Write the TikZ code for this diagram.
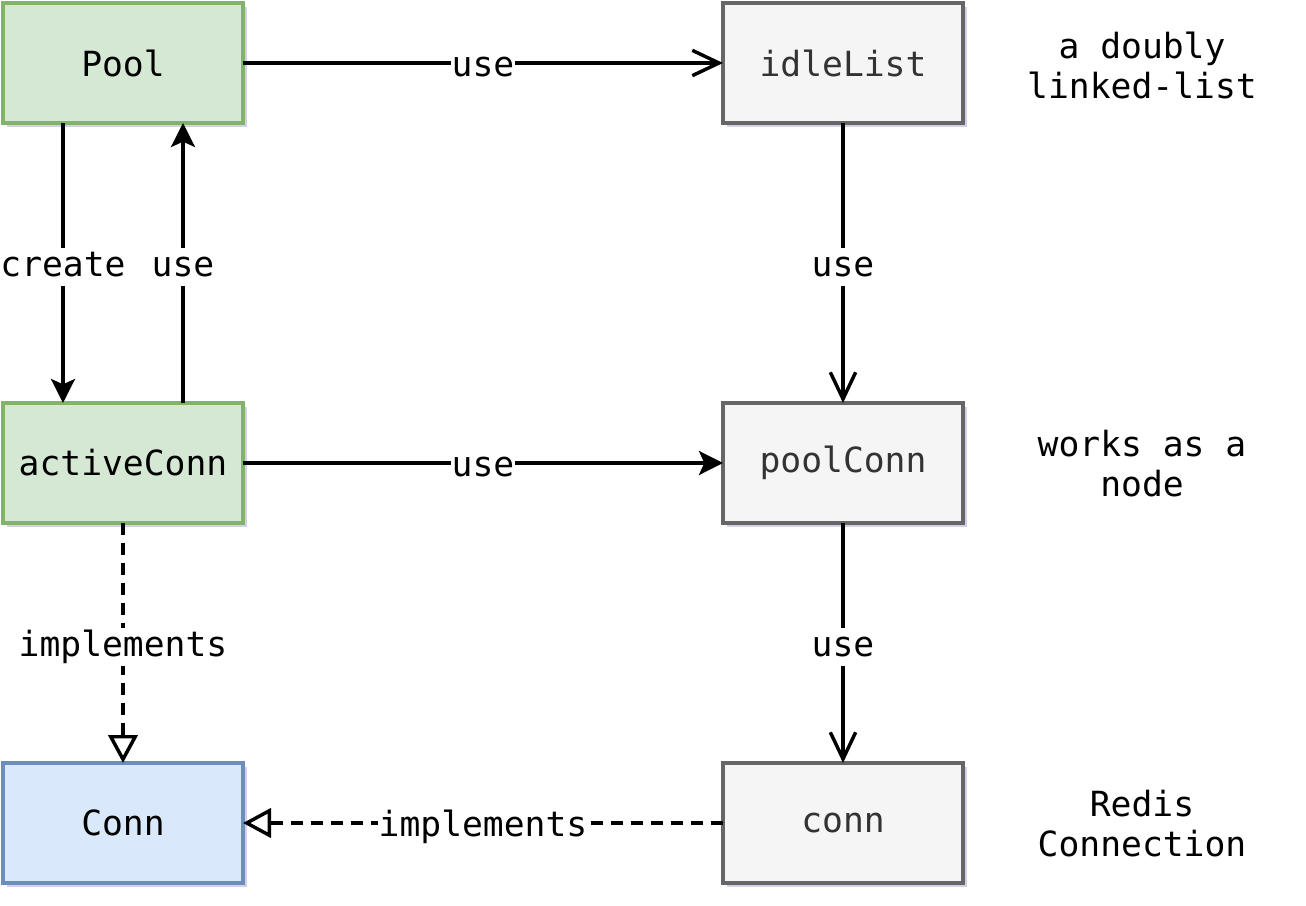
\documentclass[tikz,border=0pt]{standalone}
\usepackage{fontspec}
\setmonofont{DejaVu Sans Mono}
\usetikzlibrary{arrows.meta,shadows}
\definecolor{gfill}{HTML}{D5E8D4}\definecolor{gline}{HTML}{82B366}
\definecolor{sfill}{HTML}{F5F5F5}\definecolor{sline}{HTML}{666666}\definecolor{stext}{HTML}{333333}
\definecolor{bfill}{HTML}{DAE8FC}\definecolor{bline}{HTML}{6C8EBF}
\definecolor{shad}{HTML}{B4B4D2}
\tikzset{
  base/.style={rectangle, minimum width=180pt, minimum height=90pt, line width=2.6pt, outer sep=0pt,
     font=\ttfamily\fontsize{26}{30}\selectfont,
     drop shadow={shadow xshift=3pt, shadow yshift=-3pt, fill=shad, opacity=0.6}},
  greenbox/.style={base, fill=gfill, draw=gline},
  greybox/.style={base, fill=sfill, draw=sline, text=stext},
  bluebox/.style={base, fill=bfill, draw=bline},
  note/.style={font=\ttfamily\fontsize{26}{30}\selectfont, align=center},
  lbl/.style={fill=white, font=\ttfamily\fontsize{26}{30}\selectfont, inner xsep=0.5pt, inner ysep=2pt, text height=19pt, text depth=5pt, yshift=-3pt},
  edge/.style={line width=2.6pt},
  filled/.style={edge, -{Stealth[length=18pt, width=18pt, inset=4pt]}},
  openarr/.style={edge, -{Straight Barb[length=20pt, width=19pt, line width=2.6pt]}},
  impl/.style={edge, dash pattern=on 9pt off 6pt, -{Triangle[open, length=21pt, width=22pt, line width=2.6pt]}},
}
\begin{document}
\begin{tikzpicture}[x=0.75pt, y=-0.75pt]
\useasboundingbox (0,0) rectangle (1306,906);
\node[greenbox] (pool) at (123,63) {Pool};
\node[greybox] (idle) at (843,63) {idleList};
\node[greenbox] (active) at (123,463) {activeConn};
\node[greybox] (pconn) at (843,463) {poolConn};
\node[bluebox] (Conn) at (123,823) {Conn};
\node[greybox] (conn) at (843,823) {conn};

\node[note] (n1) at (1142,65) {a doubly\\linked-list};
\node[note] (n2) at (1142,464) {works as a\\node};
\node[note] (n3) at (1142,824) {Redis\\Connection};

\draw[openarr] (pool.east) -- node[lbl]{use} (idle.west);
\draw[filled] ([xshift=-45pt]pool.south) -- node[lbl]{create} ([xshift=-45pt]active.north);
\draw[filled] ([xshift=45pt]active.north) -- node[lbl]{use} ([xshift=45pt]pool.south);
\draw[openarr] (idle.south) -- node[lbl]{use} (pconn.north);
\draw[filled] (active.east) -- node[lbl]{use} (pconn.west);
\draw[openarr] (pconn.south) -- node[lbl]{use} (conn.north);
\draw[impl] (active.south) -- node[lbl]{implements} (Conn.north);
\draw[impl] (conn.west) -- node[lbl]{implements} (Conn.east);
\end{tikzpicture}
\end{document}
